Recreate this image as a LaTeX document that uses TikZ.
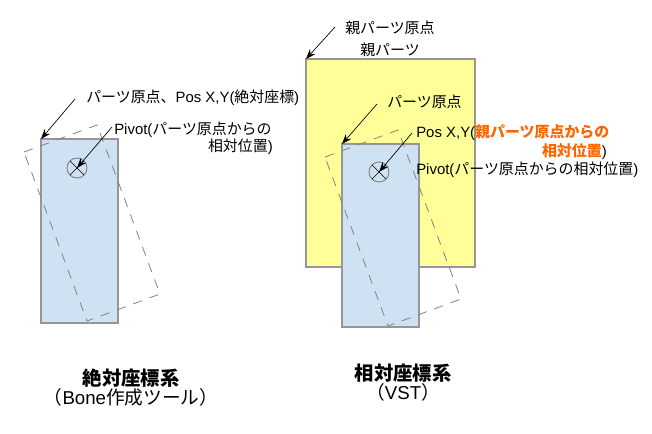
\documentclass[tikz,border=0pt]{standalone}
\usepackage{fontspec}
\setmainfont{Liberation Sans}
\newfontfamily\jp{Noto Sans CJK JP}
\usetikzlibrary{arrows.meta,calc}
\definecolor{partblue}{RGB}{207,226,243}
\definecolor{partyellow}{RGB}{255,255,153}
\definecolor{edgegray}{RGB}{150,150,150}
\definecolor{dashgray}{RGB}{130,130,130}
\definecolor{accent}{RGB}{255,102,0}
\tikzset{
  bluepart/.style={fill=partblue,draw=edgegray,line width=0.9pt},
  yellowpart/.style={fill=partyellow,draw=edgegray,line width=0.9pt},
  ghost/.style={draw=dashgray,line width=0.6pt,dash pattern=on 7pt off 6pt},
  lbl/.style={inner sep=0pt,font=\fontsize{11.2pt}{13pt}\selectfont},
  title/.style={inner sep=0pt,font=\fontsize{14.5pt}{16pt}\selectfont\jp\bfseries},
  sub/.style={inner sep=0pt,font=\fontsize{14pt}{16pt}\selectfont},
  pointer/.style={draw=black,line width=0.5pt,-{Stealth[length=7.5pt,width=5.5pt]}},
  pivotring/.style={draw=dashgray,line width=0.7pt},
  crossline/.style={line width=0.5pt},
}
\begin{document}
\begin{tikzpicture}[x=0.75pt,y=-0.75pt]
\useasboundingbox (0,0) rectangle (652,433);
% ---------- left: absolute ----------
\coordinate (LTL) at (41,139);
\coordinate (LBR) at (118,323);
\filldraw[bluepart] (LTL) rectangle (LBR);
\begin{scope}[shift={(LTL)}]
  \draw[ghost] (-17,13) -- (56,-14) -- (119,155) -- (46,182) -- cycle;
\end{scope}
\coordinate (LP) at (77,168);
\draw[pivotring] (LP) circle[radius=7.5pt];
\draw[crossline] ($(LP)+(-7,-7)$) -- ($(LP)+(7,7)$);
\draw[crossline] ($(LP)+(-7,7)$) -- ($(LP)+(7,-7)$);

\node[lbl,anchor=west] (t1) at (86,98) {{\jp パーツ原点、}Pos X,Y({\jp 絶対座標})};
\node[lbl,anchor=west] (t2) at (114,130) {Pivot({\jp パーツ原点からの}};
\node[lbl,anchor=east] (t3) at (273,147) {{\jp 相対位置})};
\coordinate (s1) at (75,99);
\coordinate (s2) at (112,127);
\draw[pointer] (s1) -- (LTL);
\draw[pointer] (s2) -- (LP);

% ---------- right: relative ----------
\coordinate (YTL) at (306,59);
\coordinate (YBR) at (475,267);
\filldraw[yellowpart] (YTL) rectangle (YBR);
\coordinate (RTL) at (342,144);
\coordinate (RBR) at (419,327);
\filldraw[bluepart] (RTL) rectangle (RBR);
\begin{scope}[shift={(RTL)}]
  \draw[ghost] (-17,13) -- (56,-14) -- (119,155) -- (46,182) -- cycle;
\end{scope}
\coordinate (RP) at (379,172);
\draw[pivotring] (RP) circle[radius=7.5pt];
\draw[crossline] ($(RP)+(-7,-7)$) -- ($(RP)+(7,7)$);
\draw[crossline] ($(RP)+(-7,7)$) -- ($(RP)+(7,-7)$);

\node[lbl,anchor=west] (t4) at (345,28) {\jp 親パーツ原点};
\node[lbl] (t5) at (390,50) {\jp 親パーツ};
\node[lbl,anchor=west] (t6) at (387,102) {\jp パーツ原点};
\node[lbl,anchor=west] (t7) at (416,133) {Pos X,Y({\jp\bfseries\color{accent}親パーツ原点からの}};
\node[lbl,anchor=east] (t8) at (607,152) {{\jp\bfseries\color{accent}相対位置})};
\node[lbl,anchor=west] (t9) at (416,170) {Pivot({\jp パーツ原点からの相対位置})};
\coordinate (s3) at (335,27);
\coordinate (s4) at (377,104);
\coordinate (s5) at (412,133);
\draw[pointer] (s3) -- (YTL);
\draw[pointer] (s4) -- (RTL);
\draw[pointer] (s5) -- (RP);

% ---------- captions ----------
\node[title] (c1) at (131,378) {絶対座標系};
\node[sub] (c2) at (131,397) {{\jp （}Bone{\jp 作成ツール）}};
\node[title] (c3) at (403,373) {相対座標系};
\node[sub] (c4) at (403,392) {{\jp （}VST{\jp ）}};
\end{tikzpicture}
\end{document}
